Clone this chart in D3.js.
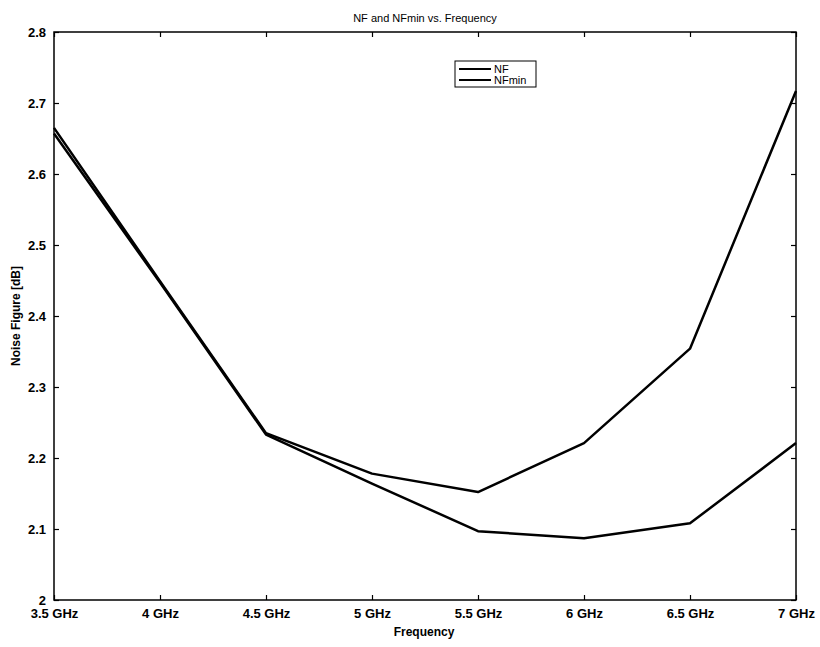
<!DOCTYPE html>
<html><head><meta charset="utf-8">
<script src="https://cdn.jsdelivr.net/npm/d3@7"></script>
<style>
body{margin:0;background:#fff;}
text{font-family:"Liberation Sans",Arial,sans-serif;fill:#000;}
</style></head>
<body><svg id="c" width="820" height="647"></svg>
<script>
const freqLabels = ["3.5 GHz","4 GHz","4.5 GHz","5 GHz","5.5 GHz","6 GHz","6.5 GHz","7 GHz"];
const freqs = [3.5,4,4.5,5,5.5,6,6.5,7];
const nf = [2.665,2.449,2.235,2.178,2.152,2.221,2.354,2.717];
const nfmin = [2.657,2.447,2.233,2.164,2.097,2.087,2.108,2.221];
const yTicks = [2,2.1,2.2,2.3,2.4,2.5,2.6,2.7,2.8];
const seriesNames = ["NF","NFmin"];

(function(){
const svg = d3.select("#c");
const L=54,R=796,T=32,B=600;
const x = d3.scaleLinear().domain([3.5,7]).range([L,R]);
const y = d3.scaleLinear().domain([2,2.8]).range([B,T]);

svg.append("rect").attr("x",L).attr("y",T).attr("width",R-L).attr("height",B-T)
  .attr("fill","none").attr("stroke","#000").attr("stroke-width",1.5);

const tl=5;
const axB = d3.axisBottom(x).tickValues(freqs).tickFormat((d,i)=>freqLabels[i]).tickSizeInner(-tl).tickSizeOuter(0).tickPadding(9);
const gb = svg.append("g").attr("transform",`translate(0,${B})`).call(axB);
const axT = d3.axisTop(x).tickValues(freqs).tickFormat("").tickSizeInner(-tl).tickSizeOuter(0);
const gt = svg.append("g").attr("transform",`translate(0,${T})`).call(axT);
const axL = d3.axisLeft(y).tickValues(yTicks).tickFormat(d3.format("~g")).tickSizeInner(-tl).tickSizeOuter(0).tickPadding(8);
const gl = svg.append("g").attr("transform",`translate(${L},0)`).call(axL);
const axR = d3.axisRight(y).tickValues(yTicks).tickFormat("").tickSizeInner(-tl).tickSizeOuter(0);
const gr = svg.append("g").attr("transform",`translate(${R},0)`).call(axR);
[gb,gt,gl,gr].forEach(g=>{
  g.select(".domain").remove();
  g.selectAll("line").attr("stroke","#000").attr("stroke-width",1.2);
  g.selectAll("text").attr("font-size",13).attr("font-weight","bold").attr("font-family","'Liberation Sans',Arial,sans-serif").attr("fill","#000");
});

const line = d3.line().x((d,i)=>x(freqs[i])).y(d=>y(d));
[nf,nfmin].forEach(s=>{
  svg.append("path").datum(s).attr("d",line).attr("fill","none")
    .attr("stroke","#000").attr("stroke-width",2.5).attr("stroke-linejoin","round");
});

svg.append("text").attr("x",425).attr("y",22).attr("text-anchor","middle")
  .attr("font-size",11).text("NF and NFmin vs. Frequency");
svg.append("text").attr("x",424).attr("y",636).attr("text-anchor","middle")
  .attr("font-size",12).attr("font-weight","bold").text("Frequency");
svg.append("text").attr("transform",`translate(20,${(T+B)/2}) rotate(-90)`).attr("text-anchor","middle")
  .attr("font-size",12).attr("font-weight","bold").text("Noise Figure [dB]");

const lg = svg.append("g");
lg.append("rect").attr("x",455).attr("y",61).attr("width",81).attr("height",26)
  .attr("fill","#fff").attr("stroke","#000").attr("stroke-width",1);
seriesNames.forEach((n,i)=>{
  const yy = 69 + i*11;
  lg.append("line").attr("x1",459).attr("x2",491).attr("y1",yy).attr("y2",yy)
    .attr("stroke","#000").attr("stroke-width",2);
  lg.append("text").attr("x",494).attr("y",yy+4).attr("font-size",11).text(n);
});
})();
</script></body></html>
